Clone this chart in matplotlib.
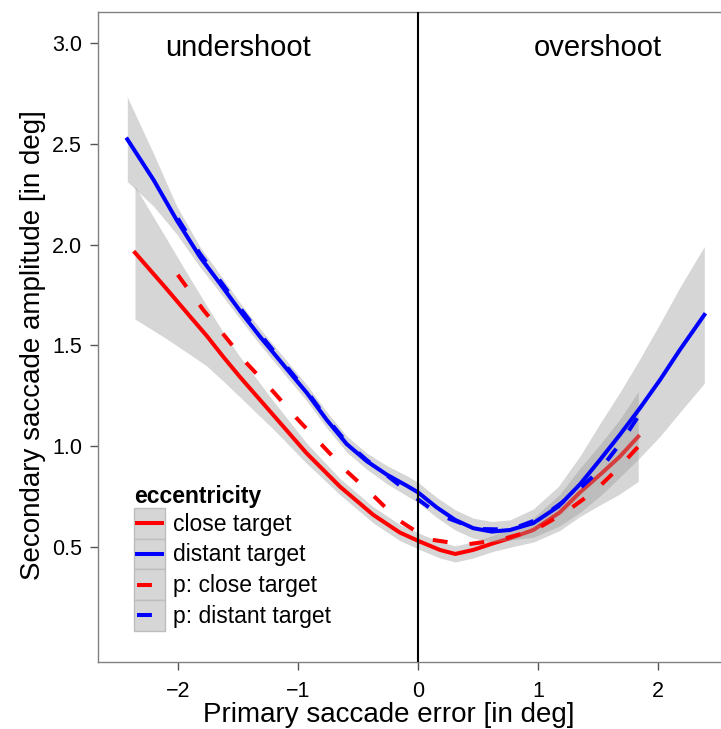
import numpy as np
import matplotlib.pyplot as plt
from matplotlib.patches import Rectangle
from matplotlib.lines import Line2D
from matplotlib.legend_handler import HandlerBase

plt.rcParams['font.family'] = ['Liberation Sans', 'DejaVu Sans']

# loess fits: x, y, half width of the grey band
dist_x  = [-2.42, -2.2, -2.01, -1.816, -1.65, -1.468, -1.315, -1.093, -0.927, -0.76, -0.594,
           -0.427, -0.26, -0.094, 0.0, 0.156, 0.31, 0.46, 0.614, 0.766, 0.96, 1.17, 1.349,
           1.515, 1.68, 1.848, 2.015, 2.18, 2.384]
dist_y  = [2.523, 2.32, 2.123, 1.94, 1.808, 1.66, 1.543, 1.383, 1.265, 1.13, 1.01,
           0.925, 0.858, 0.803, 0.77, 0.695, 0.633, 0.592, 0.575, 0.583, 0.617, 0.70, 0.81,
           0.931, 1.055, 1.188, 1.328, 1.477, 1.651]
dist_se = [0.21, 0.13, 0.07, 0.05, 0.045, 0.04, 0.04, 0.04, 0.04, 0.04, 0.04,
           0.04, 0.045, 0.05, 0.05, 0.05, 0.05, 0.05, 0.05, 0.05, 0.07, 0.10, 0.14,
           0.18, 0.21, 0.245, 0.28, 0.31, 0.34]

close_x  = [-2.356, -2.1, -1.9, -1.76, -1.617, -1.482, -1.205, -0.927, -0.649, -0.372, -0.15,
            0.017, 0.183, 0.31, 0.46, 0.627, 0.766, 0.96, 1.18, 1.349, 1.515, 1.68, 1.834]
close_y  = [1.96, 1.785, 1.645, 1.548, 1.44, 1.343, 1.154, 0.964, 0.798, 0.658, 0.57,
            0.525, 0.484, 0.464, 0.484, 0.517, 0.542, 0.583, 0.67, 0.77, 0.857, 0.947, 1.047]
close_se = [0.33, 0.25, 0.19, 0.15, 0.12, 0.10, 0.07, 0.05, 0.04, 0.04, 0.04,
            0.04, 0.04, 0.04, 0.04, 0.04, 0.045, 0.06, 0.09, 0.12, 0.15, 0.185, 0.223]

# model predictions (dashed)
p_close_x = [-2.0, -1.788, -1.6, -1.426, -1.205, -1.01, -0.8, -0.594, -0.386, -0.164, 0.086,
             0.39, 0.683, 0.974, 1.23, 1.474, 1.682, 1.93]
p_close_y = [1.85, 1.676, 1.54, 1.411, 1.27, 1.138, 1.005, 0.875, 0.762, 0.633, 0.537,
             0.51, 0.534, 0.583, 0.672, 0.778, 0.898, 1.06]
p_dist_x = [-2.0, -1.816, -1.65, -1.468, -1.315, -1.093, -0.927, -0.76, -0.594, -0.427, -0.26,
            -0.05, 0.18, 0.49, 0.77, 1.016, 1.293, 1.515, 1.696, 1.87]
p_dist_y = [2.13, 1.955, 1.822, 1.675, 1.555, 1.393, 1.273, 1.138, 1.018, 0.93, 0.855,
            0.757, 0.657, 0.588, 0.585, 0.64, 0.76, 0.881, 1.022, 1.18]

labels = ['close target', 'distant target', 'p: close target', 'p: distant target']
colors = ['#ff0000', '#0000ff']

lw = 2.9
dash = (0, (3.7, 5.5))
band = dict(color='#999999', alpha=0.4, linewidth=0)


class KeyHandler(HandlerBase):
    # grey key box with the line centred in it, like ggplot's smooth keys
    def create_artists(self, legend, orig_handle, xdescent, ydescent,
                       width, height, fontsize, trans):
        box = Rectangle((-xdescent, -ydescent), width, height, facecolor='#d6d6d6',
                        edgecolor='#bdbdbd', linewidth=1.0, transform=trans)
        yc = -ydescent + height / 2
        line = Line2D([-xdescent + 2, -xdescent + width - 2], [yc, yc])
        line.update_from(orig_handle)
        line.set_transform(trans)
        return [box, line]


fig = plt.figure(figsize=(7.21, 7.29), dpi=100)
ax = fig.add_axes([98/721, 67/729, 623/721, 650/729])

cx, cy, cs = np.array(close_x), np.array(close_y), np.array(close_se)
dx, dy, ds = np.array(dist_x), np.array(dist_y), np.array(dist_se)

ax.fill_between(cx, cy - cs, cy + cs, zorder=1, **band)
ax.plot(cx, cy, color=colors[0], lw=lw, zorder=2)
ax.fill_between(dx, dy - ds, dy + ds, zorder=3, **band)
ax.plot(dx, dy, color=colors[1], lw=lw, zorder=4)
ax.plot(p_close_x, p_close_y, color=colors[0], lw=lw, linestyle=dash, zorder=5)
ax.plot(p_dist_x, p_dist_y, color=colors[1], lw=lw, linestyle=dash, zorder=6)

ax.axvline(0, color='black', lw=1.5, zorder=7)

ax.text(-1.5, 2.975, 'undershoot', fontsize=21, ha='center', va='center')
ax.text(1.5, 2.975, 'overshoot', fontsize=21, ha='center', va='center')

ax.set_xlim(-2.664, 2.523)
ax.set_ylim(-0.0725, 3.155)
ax.set_xticks([-2, -1, 0, 1, 2])
ax.set_yticks([0.5, 1.0, 1.5, 2.0, 2.5, 3.0])
ax.set_yticklabels(['0.5', '1.0', '1.5', '2.0', '2.5', '3.0'])
ax.tick_params(direction='out', length=6, width=1, color='#555555',
               labelsize=15.5, labelcolor='black')
ax.tick_params(axis='x', pad=8)
ax.tick_params(axis='y', pad=5.5)

for s in ['left', 'bottom', 'top']:
    ax.spines[s].set_color('#808080')
    ax.spines[s].set_linewidth(1.0)
ax.spines['right'].set_visible(False)

ax.set_xlabel('Primary saccade error [in deg]', fontsize=20, va='baseline')
ax.xaxis.set_label_coords(0.467, -0.0918)
ax.set_ylabel('Secondary saccade amplitude [in deg]', fontsize=20, va='baseline',
              rotation_mode='anchor')
ax.yaxis.set_label_coords(-0.0931, 0.488)

handles = [
    Line2D([], [], color=colors[0], lw=lw),
    Line2D([], [], color=colors[1], lw=lw),
    Line2D([], [], color=colors[0], lw=lw, linestyle=dash),
    Line2D([], [], color=colors[1], lw=lw, linestyle=dash),
]
leg = ax.legend(handles, labels, title='eccentricity', loc='upper left',
                bbox_to_anchor=(134/721, 1 - 485/729), bbox_transform=fig.transFigure,
                frameon=False, fontsize=16.5, handlelength=1.35, handleheight=1.683,
                labelspacing=0.0, handletextpad=0.34, borderpad=0, borderaxespad=0,
                alignment='left', title_fontproperties={'weight': 'bold', 'size': 16.5},
                handler_map={Line2D: KeyHandler()})
leg.set_zorder(10)

fig.savefig('out.png', dpi=100)
